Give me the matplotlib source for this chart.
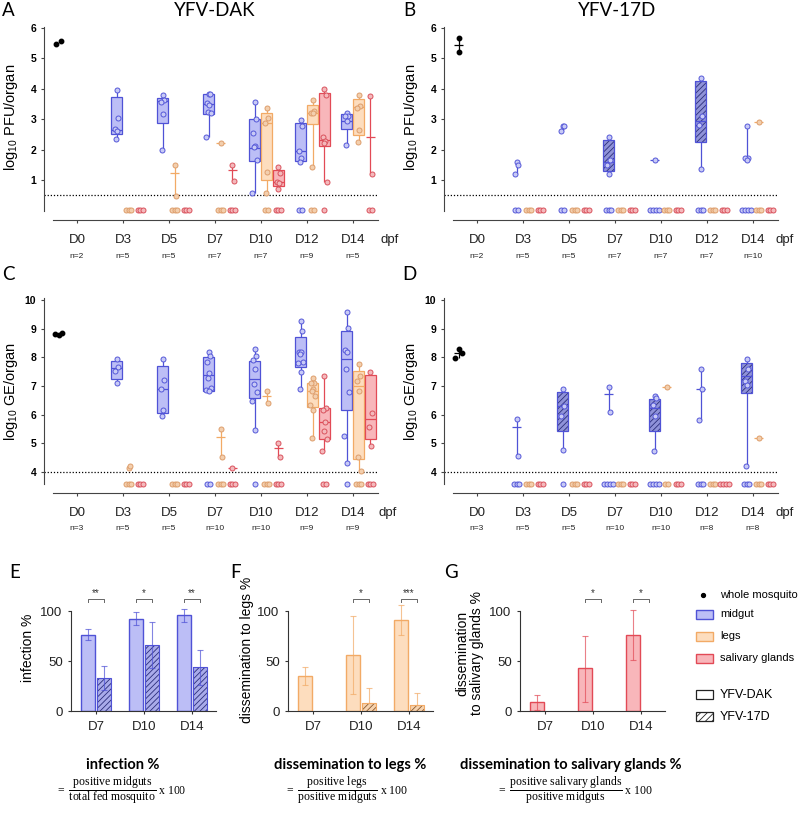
import numpy as np
import matplotlib
matplotlib.use('Agg')
from matplotlib import pyplot as plt
from matplotlib import transforms
from matplotlib.patches import Rectangle

plt.rcParams['font.family'] = ['Liberation Sans', 'DejaVu Sans']
plt.rcParams['mathtext.fontset'] = 'custom'
plt.rcParams['mathtext.rm'] = 'Liberation Serif'
plt.rcParams['mathtext.it'] = 'Liberation Serif:italic'
plt.rcParams['mathtext.bf'] = 'Liberation Serif:bold'
plt.rcParams['mathtext.sf'] = 'Liberation Sans'
plt.rcParams['hatch.linewidth'] = 0.6

W, H = 798, 814

days = ['D0', 'D3', 'D5', 'D7', 'D10', 'D12', 'D14']

# ---- A: YFV-DAK, log10 PFU/organ (D3..D14) ----
n_pfu_dak = [2, 5, 5, 7, 7, 9, 5]
pfu_dak_whole = [5.47, 5.57]
pfu_dak_midgut = [[3.95, 3.03, 2.67, 2.60, 2.36], [3.80, 3.64, 3.56, 3.17, 1.98],
                  [3.84, 3.82, 3.52, 3.48, 3.23, 3.21, 2.43],
                  [3.57, 3.00, 2.56, 2.13, 2.07, 1.65, 0.57],
                  [2.96, 2.78, 1.97, 1.71, 1.58], [3.20, 3.11, 3.09, 2.95, 2.16]]
pfu_dak_midgut_box = [(2.50, 2.65, 3.72), (2.89, 3.60, 3.70), (3.17, 3.50, 3.84),
                      (1.62, 2.05, 3.00), (1.63, 1.97, 2.87), (2.68, 2.93, 3.16)]
pfu_dak_midgut_zeros = [0, 0, 0, 0, 2, 0]
pfu_dak_legs = [[], [1.48, 0.48], [2.22], [3.36, 3.03, 2.87, 1.25, 0.57],
                [3.64, 3.28, 3.22, 3.19, 1.42], [3.81, 3.44, 3.38, 2.65, 2.24]]
pfu_dak_legs_box = [None, 1.22, 2.22, (1.01, 2.87, 3.20), (2.85, 3.22, 3.46), (2.49, 3.40, 3.66)]
pfu_dak_legs_zeros = [3, 3, 3, 2, 2, 0]
pfu_dak_sal = [[], [], [1.50, 0.96], [1.43, 1.23, 0.93, 0.90, 0.72],
               [4.00, 3.80, 2.43, 2.27, 2.21, 0.95], [3.77, 1.20]]
pfu_dak_sal_box = [None, None, 1.32, (0.79, 0.95, 1.34), (2.12, 2.33, 3.85), 2.42]
pfu_dak_sal_zeros = [3, 3, 3, 3, 1, 2]

# ---- B: YFV-17D, log10 PFU/organ ----
n_pfu_17d = [2, 5, 5, 7, 7, 7, 10]
pfu_17d_whole = [5.66, 5.20]
pfu_17d_midgut = [[1.59, 1.50, 1.19], [2.79, 2.79, 2.60], [2.43, 1.67, 1.50, 1.20], [1.66],
                  [4.36, 3.10, 2.80, 1.37], [2.79, 1.73, 1.71, 1.65]]
pfu_17d_midgut_box = [None, None, (1.28, 1.60, 2.30), 1.66, (2.24, 2.95, 4.26), None]
pfu_17d_midgut_zeros = [2, 2, 3, 4, 3, 4]
pfu_17d_legs = [[], [], [], [], [], [2.90]]
pfu_17d_legs_box = [None, None, None, None, None, 2.90]
pfu_17d_legs_zeros = [3, 3, 3, 3, 3, 3]
pfu_17d_sal = [[], [], [], [], [], []]
pfu_17d_sal_box = [None, None, None, None, None, None]
pfu_17d_sal_zeros = [3, 3, 3, 3, 3, 3]

# ---- C: YFV-DAK, log10 GE/organ ----
n_ge_dak = [3, 5, 5, 10, 10, 9, 9]
ge_dak_whole = [8.80, 8.76, 8.83]
ge_dak_midgut = [[7.93, 7.66, 7.51, 7.10], [7.93, 7.22, 6.90, 6.15, 5.94],
                 [8.17, 8.05, 7.82, 7.45, 7.29, 6.93, 6.87, 6.83],
                 [8.28, 8.05, 7.91, 7.59, 7.08, 6.78, 6.47, 5.45],
                 [9.28, 8.93, 8.20, 8.17, 8.12, 7.83, 7.80, 7.49, 6.90],
                 [9.59, 9.01, 8.24, 8.20, 7.59, 6.78, 5.24, 4.31]]
ge_dak_midgut_box = [(7.25, 7.62, 7.88), (6.06, 6.90, 7.70), (6.83, 7.37, 8.00),
                     (6.58, 7.24, 7.86), (7.66, 7.80, 8.70), (6.17, 7.95, 8.93)]
ge_dak_midgut_zeros = [0, 0, 2, 1, 0, 1]
ge_dak_legs = [[4.14, 4.20], [], [5.50, 4.52], [6.83, 6.40],
               [7.27, 7.12, 7.10, 6.89, 6.83, 6.66, 6.35, 6.17, 5.19],
               [7.77, 7.35, 7.16, 6.83, 4.51, 4.02]]
ge_dak_legs_box = [None, None, 5.22, 6.66, (6.25, 6.81, 7.10), (4.45, 7.01, 7.51)]
ge_dak_legs_zeros = [3, 3, 3, 3, 0, 3]
ge_dak_sal = [[], [], [4.14], [5.01, 4.52], [7.33, 6.23, 6.17, 5.73, 5.42, 5.15, 4.72],
              [7.47, 6.06, 5.56, 4.90]]
ge_dak_sal_box = [None, None, 4.14, 4.84, (5.15, 5.73, 6.23), (5.15, 5.85, 7.37)]
ge_dak_sal_zeros = [3, 3, 3, 3, 2, 3]

# ---- D: YFV-17D, log10 GE/organ ----
n_ge_17d = [3, 5, 5, 10, 10, 8, 8]
ge_17d_whole = [7.97, 8.29, 8.14]
ge_17d_midgut = [[5.85, 4.55], [6.89, 6.31, 5.96, 4.78], [6.95, 6.08],
                 [6.64, 6.58, 6.35, 5.96, 4.72], [7.59, 6.91, 5.80],
                 [7.93, 7.60, 7.19, 7.05, 4.20]]
ge_17d_midgut_box = [5.57, (5.42, 6.29, 6.78), 6.72, (5.42, 6.23, 6.56), 6.90, (6.75, 7.35, 7.80)]
ge_17d_midgut_zeros = [3, 1, 4, 4, 3, 3]
ge_17d_legs = [[], [], [], [6.95], [], [5.17]]
ge_17d_legs_box = [None, None, None, 6.95, None, 5.17]
ge_17d_legs_zeros = [3, 3, 3, 2, 3, 3]
ge_17d_sal = [[], [], [], [], [], []]
ge_17d_sal_box = [None, None, None, None, None, None]
ge_17d_sal_zeros = [3, 3, 3, 3, 4, 3]

# ---- E/F/G: percentages ----
bar_days = ['D7', 'D10', 'D14']
infection_dak = [76.5, 92.5, 96.3]
infection_dak_lo = [71, 86, 89]
infection_dak_hi = [82, 99, 102]
infection_17d = [33, 66, 44]
infection_17d_lo = [21, 43, 26]
infection_17d_hi = [45, 89, 61]
infection_sig = ['**', '*', '**']
legs_dak = [35, 56, 91.5]
legs_dak_lo = [26, 17, 76]
legs_dak_hi = [44, 95, 105.6]
legs_17d = [0, 8, 6.5]
legs_17d_lo = [0, 8, 6.5]
legs_17d_hi = [0, 23, 18]
legs_sig = ['', '*', '***']
sal_dak = [9, 42.6, 76]
sal_dak_lo = [1, 9.5, 51.5]
sal_dak_hi = [16, 75, 101]
sal_17d = [0, 0, 0]
sal_17d_lo = [0, 0, 0]
sal_17d_hi = [0, 0, 0]
sal_sig = ['', '*', '*']

# colours: edge, box face, point face, point edge
COL = {
    'midgut': ('#4F52D6', '#BCBEF6', '#C8CAF6', '#5558D8'),
    'legs': ('#F2AA66', '#FDDDBE', '#F3CFAE', '#DE9E6C'),
    'sal': ('#E24A56', '#F8B6BA', '#F4B9BC', '#D9525D'),
}
OFF = {'midgut': -0.14, 'legs': 0.12, 'sal': 0.38}
JIT = [0.0, 0.035, -0.035, 0.02, -0.02, 0.045, -0.045, 0.01, -0.01, 0.03]
AX_COL = '#444444'

fig = plt.figure(figsize=(W / 100, H / 100), dpi=100)


def px_axes(left, top, right, bottom):
    return fig.add_axes([left / W, 1 - bottom / H, (right - left) / W, (bottom - top) / H])


def spread(k, step):
    return (np.arange(k) - (k - 1) / 2) * step


def draw_group(ax, x, pts, box, zeros, zero_y, organ, hatched):
    edge, face, pface, pedge = COL[organ]
    if len(pts) > 1:
        ax.vlines(x, min(pts), max(pts), color=edge, lw=0.9, zorder=2)
    if isinstance(box, tuple):
        q1, med, q3 = box
        if hatched:
            ax.bar(x, q3 - q1, 0.23, bottom=q1, facecolor='#8F92D8', edgecolor='#2B2E7A',
                   hatch='//////', lw=0, zorder=3)
            ax.bar(x, q3 - q1, 0.23, bottom=q1, facecolor='none', edgecolor=edge, lw=0.9, zorder=3)
        else:
            ax.bar(x, q3 - q1, 0.23, bottom=q1, facecolor=face, edgecolor=edge, lw=0.9, zorder=3)
        ax.hlines(med, x - 0.115, x + 0.115, color=edge, lw=0.9, zorder=4)
    elif box is not None:
        ax.hlines(box, x - 0.1, x + 0.1, color=edge, lw=0.9, zorder=4)
    if pts:
        xs = [x + JIT[i % len(JIT)] for i in range(len(pts))]
        ax.plot(xs, pts, 'o', ms=3.6, mfc=pface, mec=pedge, mew=0.7, zorder=5, clip_on=False)
    if zeros:
        ax.plot(x + spread(zeros, 0.06), [zero_y] * zeros, 'o', ms=3.6, mfc=pface, mec=pedge,
                mew=0.7, zorder=5, clip_on=False)


def box_panel(ax, whole, whole_step, whole_err, organs, n_list, ylim, zero_y, lod, yticks,
              hatched, dpf_x):
    ax.set_xlim(-0.717, 6.87)
    ax.set_ylim(*ylim)
    ax.patch.set_alpha(0)
    for sp in ['top', 'right']:
        ax.spines[sp].set_visible(False)
    for sp in ['left', 'bottom']:
        ax.spines[sp].set_color(AX_COL)
        ax.spines[sp].set_linewidth(0.8)
    ax.spines['left'].set_bounds(zero_y - 0.03, yticks[-1] + 0.05)
    ax.spines['bottom'].set_bounds(-0.52, 6.55)
    ax.set_yticks(yticks)
    ax.set_yticklabels([str(t) for t in yticks], fontweight='bold', fontsize=7.5)
    ax.set_xticks(range(len(days)))
    ax.set_xticklabels([])
    ax.tick_params(axis='both', length=2.5, width=0.8, color=AX_COL, pad=3)
    ax.hlines(lod, -0.72, 6.52, colors='black', linestyles=(0, (1, 1.5)), lw=0.9, zorder=1)

    # whole mosquito at D0
    wx = -0.4 + spread(len(whole), whole_step)
    ax.plot(wx, whole, 'o', ms=3.2, color='black', zorder=5)
    mid = np.mean(whole)
    if whole_err:
        ax.vlines(-0.4, min(whole), max(whole), color='black', lw=0.9)
        ax.hlines(mid, -0.5, -0.3, color='black', lw=0.9)

    for i in range(6):
        for organ, pts, box, zeros in organs:
            draw_group(ax, i + 1 + OFF[organ], pts[i], box[i], zeros[i], zero_y, organ,
                       hatched and organ == 'midgut')

    tr_d = transforms.offset_copy(ax.get_xaxis_transform(), fig=fig, y=-20 * 0.72, units='points')
    tr_n = transforms.offset_copy(ax.get_xaxis_transform(), fig=fig, y=-36 * 0.72, units='points')
    for i, (d, n) in enumerate(zip(days, n_list)):
        ax.text(i, 0, d, transform=tr_d, ha='center', va='center', fontsize=9.5, color='#222222')
        ax.text(i, 0, 'n=%d' % n, transform=tr_n, ha='center', va='center', fontsize=6,
                color='#222222')
    ax.text(dpf_x, 0, 'dpf', transform=tr_d, ha='center', va='center', fontsize=9.5,
            color='#222222')


ax_a = px_axes(44, 25, 393, 220)
box_panel(ax_a, pfu_dak_whole, 0.1, False,
          [('midgut', pfu_dak_midgut, pfu_dak_midgut_box, pfu_dak_midgut_zeros),
           ('legs', pfu_dak_legs, pfu_dak_legs_box, pfu_dak_legs_zeros),
           ('sal', pfu_dak_sal, pfu_dak_sal_box, pfu_dak_sal_zeros)],
          n_pfu_dak, (-0.316, 6.1), 0, 0.5, [1, 2, 3, 4, 5, 6], False, 6.8)

ax_b = px_axes(444, 25, 793, 220)
box_panel(ax_b, pfu_17d_whole, 0.0, True,
          [('midgut', pfu_17d_midgut, pfu_17d_midgut_box, pfu_17d_midgut_zeros),
           ('legs', pfu_17d_legs, pfu_17d_legs_box, pfu_17d_legs_zeros),
           ('sal', pfu_17d_sal, pfu_17d_sal_box, pfu_17d_sal_zeros)],
          n_pfu_17d, (-0.316, 6.1), 0, 0.5, [1, 2, 3, 4, 5, 6], True, 6.7)

ax_c = px_axes(44, 297, 393, 493)
box_panel(ax_c, ge_dak_whole, 0.07, False,
          [('midgut', ge_dak_midgut, ge_dak_midgut_box, ge_dak_midgut_zeros),
           ('legs', ge_dak_legs, ge_dak_legs_box, ge_dak_legs_zeros),
           ('sal', ge_dak_sal, ge_dak_sal_box, ge_dak_sal_zeros)],
          n_ge_dak, (3.27, 10.1), 3.6, 4, [4, 5, 6, 7, 8, 9, 10], False, 6.75)

ax_d = px_axes(444, 297, 793, 493)
box_panel(ax_d, ge_17d_whole, 0.08, True,
          [('midgut', ge_17d_midgut, ge_17d_midgut_box, ge_17d_midgut_zeros),
           ('legs', ge_17d_legs, ge_17d_legs_box, ge_17d_legs_zeros),
           ('sal', ge_17d_sal, ge_17d_sal_box, ge_17d_sal_zeros)],
          n_ge_17d, (3.27, 10.1), 3.6, 4, [4, 5, 6, 7, 8, 9, 10], True, 6.7)


def bar_panel(ax, dak, dak_lo, dak_hi, v17, v17_lo, v17_hi, sig, organ, hface, hcol):
    edge, face, _, _ = COL[organ]
    x = np.arange(len(bar_days))
    dak = np.array(dak, float)
    v17 = np.array(v17, float)
    ax.set_xlim(-0.52, 2.5)
    ax.set_ylim(0, 120)
    ax.patch.set_alpha(0)
    for sp in ['top', 'right']:
        ax.spines[sp].set_visible(False)
    for sp in ['left', 'bottom']:
        ax.spines[sp].set_color('#333333')
        ax.spines[sp].set_linewidth(0.8)
    ax.spines['left'].set_bounds(0, 100)
    ax.set_yticks([0, 50, 100])
    ax.set_xticks(x)
    ax.set_xticklabels(bar_days)
    ax.tick_params(axis='both', length=2.5, width=0.8, color='#333333', labelsize=9.5,
                   labelcolor='#222222')
    ax.tick_params(axis='x', pad=5)

    xd = x - 0.165
    xh = x + 0.165
    ax.bar(xd, dak, 0.29, facecolor=face, edgecolor=edge, lw=1.0, zorder=2)
    ax.errorbar(xd, dak, yerr=[dak - np.array(dak_lo), np.array(dak_hi) - dak], fmt='none',
                ecolor=edge, alpha=0.7, elinewidth=0.8, capsize=2.2, capthick=0.8, zorder=3,
                clip_on=False)
    keep = v17 > 0
    if keep.any():
        ax.bar(xh[keep], v17[keep], 0.29, facecolor=hface, edgecolor=hcol, hatch='//////',
               lw=0, zorder=2)
        ax.bar(xh[keep], v17[keep], 0.29, facecolor='none', edgecolor=edge, lw=0.8, zorder=2)
        lo = (v17 - np.array(v17_lo))[keep]
        hi = (np.array(v17_hi) - v17)[keep]
        ax.errorbar(xh[keep], v17[keep], yerr=[lo, hi], fmt='none', ecolor=edge, alpha=0.7,
                    elinewidth=0.8, capsize=2.2, capthick=0.8, zorder=3)
    for i, s in enumerate(sig):
        if s:
            ax.plot([xd[i], xd[i], xh[i], xh[i]], [109, 112, 112, 109], color='#666666', lw=0.7,
                    clip_on=False)
            ax.text(x[i], 112.5, s, ha='center', va='bottom', fontsize=7, color='#333333')


ax_e = px_axes(71, 591, 216, 711)
bar_panel(ax_e, infection_dak, infection_dak_lo, infection_dak_hi,
          infection_17d, infection_17d_lo, infection_17d_hi, infection_sig,
          'midgut', '#A9ABEA', '#2B2E7A')
ax_f = px_axes(288, 591, 433, 711)
bar_panel(ax_f, legs_dak, legs_dak_lo, legs_dak_hi, legs_17d, legs_17d_lo, legs_17d_hi,
          legs_sig, 'legs', '#F6D2AE', '#8A5A2E')
ax_g = px_axes(520, 591, 665, 711)
bar_panel(ax_g, sal_dak, sal_dak_lo, sal_dak_hi, sal_17d, sal_17d_lo, sal_17d_hi,
          sal_sig, 'sal', '#F8B6BA', '#8A2E35')

# overlay for labels, titles and legend
ov = fig.add_axes([0, 0, 1, 1])
ov.set_xlim(0, W)
ov.set_ylim(H, 0)
ov.axis('off')

big = dict(family=['Lato', 'DejaVu Sans'], fontsize=13.5, ha='center', va='center')
ov.text(8, 10, 'A', **big)
ov.text(409, 10, 'B', **big)
ov.text(8, 275, 'C', **big)
ov.text(409, 275, 'D', **big)
ov.text(15, 572, 'E', **big)
ov.text(236, 572, 'F', **big)
ov.text(451, 572, 'G', **big)
ov.text(215, 11, 'YFV-DAK', **big)
ov.text(617, 11, 'YFV-17D', **big)

yl = dict(rotation=90, ha='center', va='center', fontsize=10.5)
ov.text(11, 117, r'log$_{\mathsf{10}}$ PFU/organ', **yl)
ov.text(411, 117, r'log$_{\mathsf{10}}$ PFU/organ', **yl)
ov.text(11, 391, r'log$_{\mathsf{10}}$ GE/organ', **yl)
ov.text(411, 391, r'log$_{\mathsf{10}}$ GE/organ', **yl)
ov.text(28, 648, 'infection %', rotation=90, ha='center', va='center', fontsize=10)
ov.text(247, 650, 'dissemination to legs %', rotation=90, ha='center', va='center', fontsize=10)
ov.text(470, 653, 'dissemination\nto salivary glands %', rotation=90, ha='center', va='center',
        fontsize=10, linespacing=1.05)

tt = dict(family=['Lato', 'DejaVu Sans'], fontweight='bold', fontsize=10.5, ha='center',
          va='center')
ov.text(123, 765, 'infection %', **tt)
ov.text(350, 765, 'dissemination to legs %', **tt)
ov.text(571, 765, 'dissemination to salivary glands %', **tt)

fm = dict(fontsize=8.5, ha='center', va='center')
ov.text(121, 790, r'$=\ \dfrac{\mathrm{positive\ midguts}}{\mathrm{total\ fed\ mosquito}}\ \mathrm{x\ 100}$', **fm)
ov.text(347, 790, r'$=\ \dfrac{\mathrm{positive\ legs}}{\mathrm{positive\ midguts}}\ \mathrm{x\ 100}$', **fm)
ov.text(575, 790, r'$=\ \dfrac{\mathrm{positive\ salivary\ glands}}{\mathrm{positive\ midguts}}\ \mathrm{x\ 100}$', **fm)

# legend
LEG_FS = 8.0
ov.plot([703], [595], 'o', ms=2.8, color='black')
leg_rows = [(614, 'midgut'), (636, 'legs'), (658, 'sal')]
leg_names = {'midgut': 'midgut', 'legs': 'legs', 'sal': 'salivary glands'}
for y, organ in leg_rows:
    edge, face, _, _ = COL[organ]
    ov.add_patch(Rectangle((696, y - 4.5), 17, 9, facecolor=face, edgecolor=edge, lw=1.0))
    ov.text(720, y, leg_names[organ], ha='left', va='center', fontsize=LEG_FS)
ov.text(720, 595, 'whole mosquito', ha='left', va='center', fontsize=LEG_FS)
ov.add_patch(Rectangle((696, 690), 17, 9, facecolor='white', edgecolor='#222222', lw=0.9))
ov.add_patch(Rectangle((696, 712), 17, 9, facecolor='white', edgecolor='#222222', lw=0.9,
                       hatch='/////'))
ov.text(720, 695, 'YFV-DAK', ha='left', va='center', fontsize=LEG_FS + 1)
ov.text(720, 717, 'YFV-17D', ha='left', va='center', fontsize=LEG_FS + 1)

fig.savefig('out.png', dpi=100)
